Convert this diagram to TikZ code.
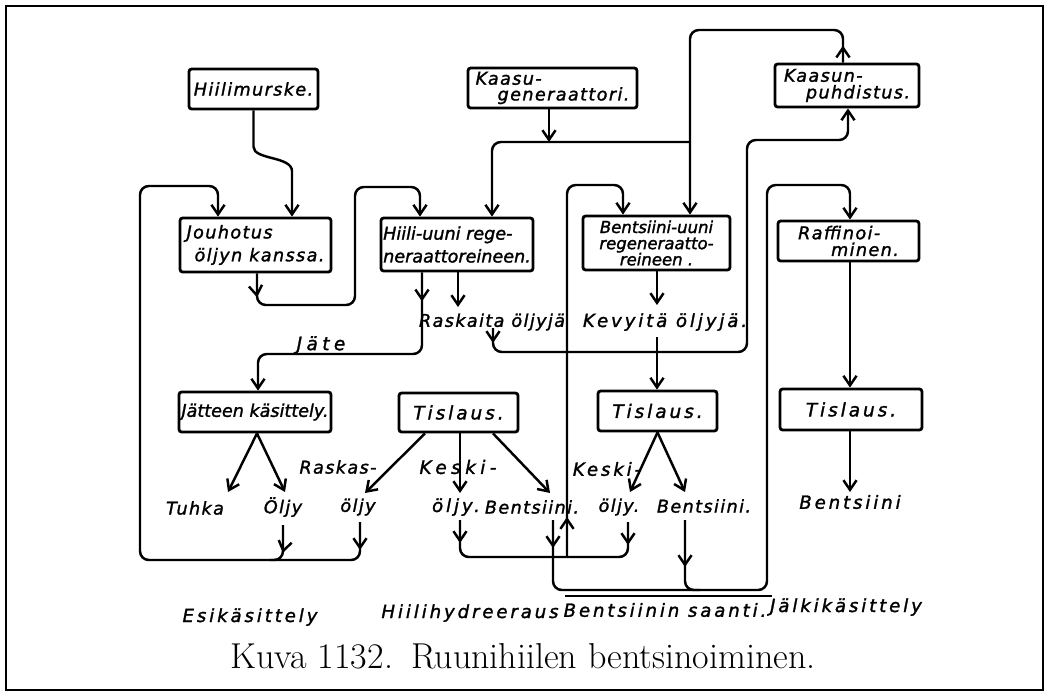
\documentclass[tikz,border=0pt]{standalone}
\usepackage{fontspec}
\usetikzlibrary{arrows.meta,decorations.markings}
\newfontfamily\hand[LetterSpace=8,FakeBold=1.5]{DejaVu Sans Oblique}
\newfontfamily\handn[FakeBold=1.5]{DejaVu Sans Oblique}
\newfontfamily\handw[LetterSpace=16,FakeBold=1.5]{DejaVu Sans Oblique}
\newfontfamily\handx[LetterSpace=24,FakeBold=1.5]{DejaVu Sans Oblique}
\begin{document}
\begin{tikzpicture}[x=0.02cm,y=-0.02cm,
  box/.style={draw, line width=1.6pt, rounded corners=1.5pt, inner sep=0pt,
    font=\hand\fontsize{10}{11}\selectfont},
  lbl/.style={inner sep=1pt, font=\hand\fontsize{10}{11}\selectfont},
  wlbl/.style={inner sep=1pt, font=\handw\fontsize{10.3}{11}\selectfont},
  ln/.style={line width=1.4pt, rounded corners=5pt},
  arr/.style={ln, -{Straight Barb[length=5.5pt,width=7.5pt]}},
  tipat/.style={postaction={decorate}, decoration={markings,
    mark=at position #1 with {\arrow{Straight Barb[length=5.5pt,width=7.5pt]}}}},
]
\useasboundingbox (0,0) rectangle (1046,694);
\draw[line width=1.3pt] (6,6) rectangle (1043,690);

% boxes
\node[box, minimum width=2.58cm, minimum height=0.80cm] (hm) at (253.5,89) {Hiilimurske.};
\node[box, minimum width=3.38cm, minimum height=0.80cm, align=left,
  font=\hand\fontsize{10}{9}\selectfont] (kg) at (552.5,88) {Kaasu-\\\hspace*{0.44cm}generaattori.};
\node[box, minimum width=2.88cm, minimum height=0.86cm, align=left,
  font=\hand\fontsize{10}{9.5}\selectfont] (kp) at (847,85.5) {Kaasun-\\\hspace*{0.44cm}puhdistus.};
\node[box, minimum width=3.02cm, minimum height=1.08cm, align=left,
  font=\hand\fontsize{10}{13}\selectfont] (jo) at (255.5,245) {Jouhotus\\\hspace*{0.16cm}öljyn kanssa.};
\node[box, minimum width=3.04cm, minimum height=1.06cm, align=left,
  font=\handn\fontsize{10}{13}\selectfont] (hu) at (457,244.5) {Hiili-uuni rege-\\neraattoreineen.};
\node[box, minimum width=2.94cm, minimum height=1.08cm, align=center,
  font=\handn\fontsize{9.4}{9.2}\selectfont] (bu) at (656.5,243) {Bentsiini-uuni\\regeneraatto-\\reineen .};
\node[box, minimum width=2.82cm, minimum height=0.80cm, align=left,
  font=\hand\fontsize{10}{9.5}\selectfont] (rf) at (848.5,241) {Raffinoi-\\\hspace*{0.66cm}minen.};
\node[box, minimum width=3.04cm, minimum height=0.80cm,
  font=\handn\fontsize{10}{11}\selectfont] (jk) at (255,412) {Jätteen käsittely.};
\node[box, minimum width=2.38cm, minimum height=0.78cm, font=\handw\fontsize{10.5}{11}\selectfont] (t1) at (458.5,412.5) {Tislaus.};
\node[box, minimum width=2.38cm, minimum height=0.80cm, font=\handw\fontsize{10.5}{11}\selectfont] (t2) at (657.5,411) {Tislaus.};
\node[box, minimum width=2.84cm, minimum height=0.82cm, font=\handw\fontsize{10.5}{11}\selectfont] (t3) at (851,409.5) {Tislaus.};

% labels
\node[lbl] (rask) at (492,322) {Raskaita öljyjä};
\node[wlbl] (kev) at (665,322) {Kevyitä öljyjä.};
\node[lbl, font=\handx\fontsize{10.5}{11}\selectfont] (jate) at (321,345) {Jäte};
\node[lbl] (tuhka) at (195,508) {Tuhka};
\node[lbl] (oljya) at (283,507) {Öljy};
\node[lbl] (raskas) at (338,467) {Raskas-};
\node[lbl] (oljyb) at (358,507) {öljy};
\node[lbl, font=\handx\fontsize{10.5}{11}\selectfont] (keskia) at (458,467) {Keski-};
\node[wlbl] (oljyc) at (456,507) {öljy.};
\node[lbl] (bentsa) at (532,507) {Bentsiini.};
\node[wlbl] (keskib) at (607,469) {Keski-};
\node[lbl] (oljyd) at (619,507) {öljy.};
\node[lbl] (bentsb) at (704,506) {Bentsiini.};
\node[wlbl] (bentsc) at (850,502) {Bentsiini};
\node[wlbl] (esi) at (250,617) {Esikäsittely};
\node[wlbl] (hh) at (470,613) {Hiilihydreeraus};
\node[wlbl] (bs) at (665,610) {Bentsiinin saanti.};
\node[wlbl] (jal) at (846,607) {Jälkikäsittely};
\node[inner sep=0pt, font=\fontsize{20.5}{23}\selectfont] (cap) at (523,656) {Kuva 1132.\enspace Ruunihiilen bentsinoiminen.};

% free-end coordinates
\coordinate (raskin) at (458,307);
\coordinate (raskout) at (493,328);
\coordinate (kevin) at (657,305);
\coordinate (kevout) at (657,337);
\coordinate (tuhkain) at (228,492);
\coordinate (oljyain) at (285,492);
\coordinate (oljyaout) at (283,525);
\coordinate (oljybin) at (365,493);
\coordinate (oljybout) at (360,522);
\coordinate (oljycin) at (460,493);
\coordinate (oljycout) at (460,520);
\coordinate (bentsain) at (550,493);
\coordinate (bentsaout) at (553,520);
\coordinate (oljydin) at (630,492);
\coordinate (oljydout) at (628,522);
\coordinate (bentsbin) at (685,492);
\coordinate (bentsbout) at (685,520);
\coordinate (bentscin) at (850,492);
\coordinate (kj) at (567,557);
\coordinate (gj) at (690,142);

% connectors
\draw[arr] (hm.south) -- (253.5,138) .. controls (253.5,160) and (292,156) .. (292,180) -- (jo.north -| 292,0);
\draw[arr, tipat=0.48cm] (jo.south -| 257,0) -- (257,305) -- (355,305) -- (355,187) -- (420,187) -- (hu.north -| 420,0);
\draw[arr, tipat=0.56cm] (oljybout) -- (360,560) -- (140,560) -- (140,186) -- (218,186) -- (jo.north -| 218,0);
\draw[ln, tipat=0.56cm] (oljyaout) -- (283,560) -- (270,560);
\draw[arr, tipat=0.58cm] (hu.south -| 422,0) -- (422,354) -- (258,354) -- (jk.north -| 258,0);
\draw[arr] (hu.south -| 458,0) -- (raskin);
\draw[arr, tipat=0.3cm] (raskout) -- (493,352) -- (747,352) -- (747,140) -- (848,140) -- (kp.south -| 848,0);
\draw[arr] (bu.south -| 657,0) -- (kevin);
\draw[arr] (kevout) -- (t2.north -| 657,0);
\draw[arr] (kg.south -| 549,0) -- (549,142);
\draw[arr] (gj) -- (492,142) -- (hu.north -| 492,0);
\draw[arr, tipat=0.34cm] (kp.north -| 843,0) -- (843,30) -- (690,30) -- (bu.north -| 690,0);
\draw[arr, tipat=0.8cm] (kj) -- (567,185) -- (623,185) -- (bu.north -| 623,0);
\draw[ln, tipat=0.46cm] (oljycout) -- (460,557) -- (kj);
\draw[ln, tipat=0.46cm] (oljydout) -- (628,557) -- (kj);
\draw[arr, tipat=0.56cm] (bentsaout) -- (553,590) -- (767,590) -- (767,185) -- (850,185) -- (rf.north -| 850,0);
\draw[ln, tipat=0.94cm] (bentsbout) -- (685,590) -- (700,590);
\draw[arr] (rf.south -| 850,0) -- (t3.north -| 850,0);
\draw[arr] (t3.south -| 850,0) -- (bentscin);
\draw[arr] (jk.south -| 257,0) -- (tuhkain);
\draw[arr] (jk.south -| 257,0) -- (oljyain);
\draw[arr] (t1.south -| 425,0) -- (oljybin);
\draw[arr] (t1.south -| 460,0) -- (oljycin);
\draw[arr] (t1.south -| 493,0) -- (bentsain);
\draw[arr] (t2.south) -- (oljydin);
\draw[arr] (t2.south) -- (bentsbin);
\draw[line width=1.6pt] (565,596) -- (772,596);
\end{tikzpicture}
\end{document}
